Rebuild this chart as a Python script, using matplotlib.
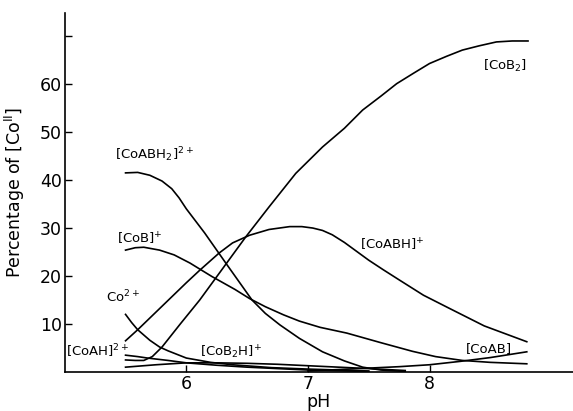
import matplotlib
matplotlib.use("Agg")
import matplotlib.pyplot as plt

# values (pH, % of Co(II))
ph_cob2 = [5.5, 5.58, 5.65, 5.72, 5.8, 5.95, 6.11, 6.3, 6.49, 6.68, 6.9, 7.12, 7.3, 7.45, 7.6, 7.73, 7.87, 8.0, 8.14, 8.27, 8.41, 8.55, 8.68, 8.81]
pc_cob2 = [2.5, 2.4, 2.4, 3.2, 5.2, 10.0, 15.0, 21.6, 28.2, 34.4, 41.4, 46.9, 50.8, 54.6, 57.5, 60.1, 62.3, 64.3, 65.8, 67.1, 68.0, 68.8, 69.0, 69.0]

ph_coabh = [5.5, 5.6, 5.8, 6.0, 6.11, 6.27, 6.38, 6.52, 6.68, 6.85, 6.95, 7.04, 7.12, 7.2, 7.3, 7.5, 7.62, 7.75, 7.95, 8.16, 8.45, 8.8]
pc_coabh = [6.5, 8.8, 13.7, 18.6, 21.2, 24.8, 26.9, 28.5, 29.7, 30.3, 30.3, 30.0, 29.5, 28.6, 27.0, 23.3, 21.3, 19.2, 16.0, 13.3, 9.6, 6.3]

ph_coabh2 = [5.5, 5.6, 5.7, 5.8, 5.88, 5.94, 6.0, 6.15, 6.33, 6.54, 6.65, 6.77, 6.93, 7.12, 7.3, 7.45, 7.6, 7.8]
pc_coabh2 = [41.5, 41.6, 41.0, 39.8, 38.2, 36.3, 34.0, 29.0, 22.5, 15.0, 12.2, 9.8, 7.0, 4.2, 2.3, 1.0, 0.4, 0.1]

ph_cob = [5.5, 5.58, 5.65, 5.78, 5.9, 6.03, 6.21, 6.4, 6.52, 6.65, 6.8, 6.93, 7.1, 7.32, 7.6, 7.86, 8.05, 8.27, 8.5, 8.8]
pc_cob = [25.4, 25.9, 26.0, 25.4, 24.4, 22.7, 19.9, 17.2, 15.3, 13.6, 11.9, 10.6, 9.3, 8.1, 6.1, 4.3, 3.2, 2.4, 2.0, 1.7]

ph_co = [5.5, 5.55, 5.6, 5.7, 5.78, 5.85, 6.0, 6.2, 6.38, 6.7, 7.0, 7.5]
pc_co = [12.0, 10.3, 8.8, 6.6, 5.2, 4.4, 2.9, 2.0, 1.5, 0.9, 0.6, 0.2]

ph_coah = [5.5, 5.6, 5.68, 5.85, 6.0, 6.25, 6.5, 7.0, 7.5]
pc_coah = [3.5, 3.2, 2.9, 2.4, 1.9, 1.4, 1.0, 0.4, 0.1]

ph_cob2h = [5.5, 5.75, 6.0, 6.25, 6.5, 6.75, 7.0, 7.25, 7.5, 7.8]
pc_cob2h = [1.0, 1.5, 1.9, 1.9, 1.8, 1.6, 1.3, 1.0, 0.7, 0.3]

ph_coab = [7.0, 7.25, 7.5, 7.75, 8.0, 8.25, 8.5, 8.8]
pc_coab = [0.2, 0.5, 0.8, 1.1, 1.5, 2.2, 3.0, 4.2]

curves = [
    (ph_cob2, pc_cob2), (ph_coabh, pc_coabh), (ph_coabh2, pc_coabh2),
    (ph_cob, pc_cob), (ph_co, pc_co), (ph_coah, pc_coah),
    (ph_cob2h, pc_cob2h), (ph_coab, pc_coab),
]

labels = [
    (8.44, 63.7, r"[CoB$_2$]"),
    (5.41, 45.2, r"[CoABH$_2$]$^{2+}$"),
    (5.43, 27.7, r"[CoB]$^{+}$"),
    (5.34, 15.6, r"Co$^{2+}$"),
    (5.01, 4.4, r"[CoAH]$^{2+}$"),
    (6.11, 4.0, r"[CoB$_2$H]$^{+}$"),
    (7.43, 26.5, r"[CoABH]$^{+}$"),
    (8.30, 4.8, r"[CoAB]"),
]

plt.rcParams["font.family"] = ["DejaVu Sans"]
plt.rcParams["mathtext.default"] = "regular"

fig = plt.figure(figsize=(5.73, 4.11), dpi=100)
ax = fig.add_axes([0.113, 0.095, 0.887, 0.873])

for x, y in curves:
    ax.plot(x, y, color="black", lw=1.2)

for x, y, s in labels:
    ax.text(x, y, s, fontsize=9.5, ha="left", va="center")

ax.set_xlim(5.0, 9.18)
ax.set_ylim(0, 74.8)
ax.set_xticks([6, 7, 8])
ax.set_yticks([10, 20, 30, 40, 50, 60, 70])
ax.set_yticklabels(["10", "20", "30", "40", "50", "60", ""])
ax.tick_params(direction="in", length=5, width=1, labelsize=12.5, pad=2)
ax.spines["top"].set_visible(False)
ax.spines["right"].set_visible(False)
for sp in ("left", "bottom"):
    ax.spines[sp].set_linewidth(1.2)

ax.set_xlabel("pH", fontsize=12.5, labelpad=0)
ax.set_ylabel(r"Percentage of [Co$^{\rm II}$]", fontsize=12.5, labelpad=4)
ax.yaxis.set_label_coords(-0.075, 0.5)

fig.savefig("out.png", dpi=100)
